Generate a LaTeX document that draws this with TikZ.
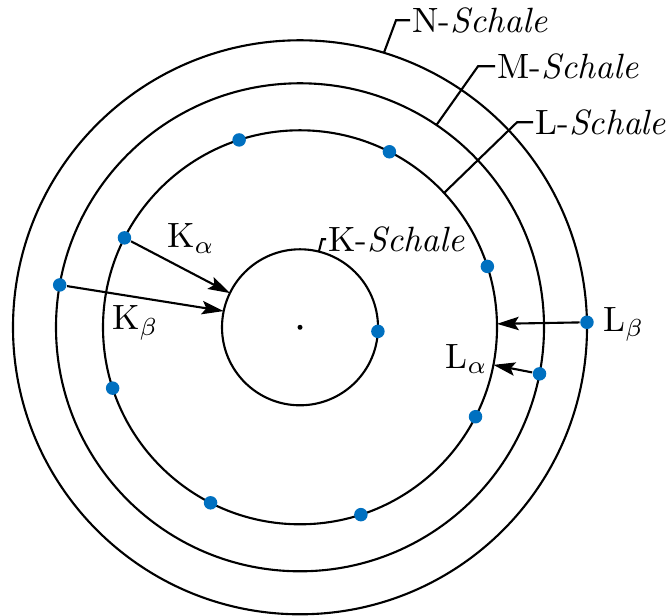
\documentclass[tikz,border=0pt]{standalone}
\usetikzlibrary{arrows.meta}
\definecolor{dotblue}{RGB}{0,112,192}

\begin{document}
\begin{tikzpicture}[
  shell/.style={draw, circle, line width=0.6pt, inner sep=0pt, outer sep=0pt},
  electron/.style={circle, fill=dotblue, inner sep=0pt, minimum size=0.135cm},
  shellname/.style={anchor=west, inner sep=0.5pt},
  leader/.style={line width=0.6pt},
  trans/.style={line width=0.6pt, -{Stealth[length=6.2pt, width=3.8pt, inset=1.2pt]}},
  tag/.style={anchor=base west, inner sep=0pt}
]
\useasboundingbox (-3.00,-2.887) rectangle (3.68,3.273);
% shells
\node[shell, minimum size=1.56cm] (K) at (0,0) {};
\node[shell, minimum size=3.94cm] (L) at (0,0) {};
\node[shell, minimum size=4.88cm] (M) at (0,0) {};
\node[shell, minimum size=5.74cm] (N) at (0,0) {};
\node[circle, fill, inner sep=0pt, minimum size=0.05cm] (core) at (0,0) {};
% electrons
\node[electron] (k1) at (K.-3) {};
\node[electron] (l1) at (L.18) {};
\node[electron] (l2) at (L.63) {};
\node[electron] (l3) at (L.108) {};
\node[electron] (l4) at (L.153) {};
\node[electron] (l5) at (L.198) {};
\node[electron] (l6) at (L.243) {};
\node[electron] (l7) at (L.288) {};
\node[electron] (l8) at (L.333) {};
\node[electron] (m1) at (M.170) {};
\node[electron] (m2) at (M.349) {};
\node[electron] (n1) at (N.1) {};
% shell names
\node[shellname] (kname) at (0.26,0.88) {K-\textit{Schale}};
\node[shellname] (lname) at (2.33,2.05) {L-\textit{Schale}};
\node[shellname] (mname) at (1.95,2.61) {M-\textit{Schale}};
\node[shellname] (nname) at (1.10,3.07) {N-\textit{Schale}};
\draw[leader] (K.76) -- ([xshift=-0.04cm]kname.west) -- (kname.west);
\draw[leader] (L.43) -- ([xshift=-0.16cm]lname.west) -- (lname.west);
\draw[leader] (M.56) -- ([xshift=-0.17cm]mname.west) -- (mname.west);
\draw[leader] (N.73) -- ([xshift=-0.14cm]nname.west) -- (nname.west);
% transitions
\draw[trans] (l4) -- (K.154);
\draw[trans] (m1) -- (K.168);
\draw[trans] (n1) -- (L.1);
\draw[trans] (m2) -- (L.349);
\node[tag] (ka) at (-1.333,0.793) {K$_\alpha$};
\node[tag] (kb) at (-1.883,-0.027) {K$_\beta$};
\node[tag] (lb) at (3.027,-0.044) {L$_\beta$};
\node[tag] (la) at (1.45,-0.41) {L$_\alpha$};
\end{tikzpicture}
\end{document}
